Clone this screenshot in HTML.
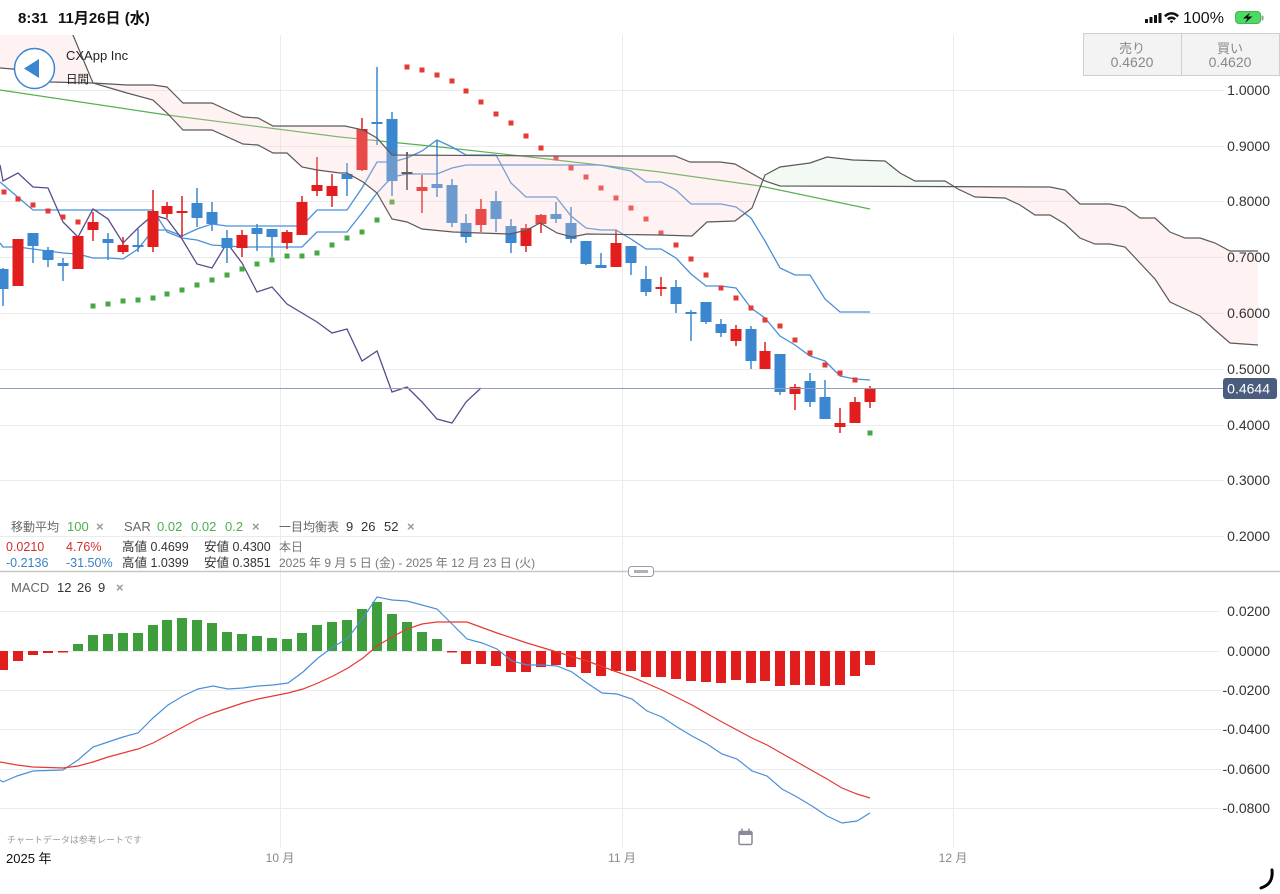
<!DOCTYPE html>
<html><head><meta charset="utf-8"><style>
html,body{margin:0;padding:0;background:#fff;}
svg{display:block;}
</style></head><body>
<svg width="1280" height="894" viewBox="0 0 1280 894" xmlns="http://www.w3.org/2000/svg" font-family="'Liberation Sans','Noto Sans CJK JP',sans-serif">
<defs>
<clipPath id="cm"><rect x="0" y="35" width="1280" height="536"/></clipPath>
<clipPath id="cp"><rect x="0" y="0" width="763" height="900"/><rect x="954" y="0" width="400" height="900"/></clipPath>
<clipPath id="cg"><rect x="763" y="0" width="191" height="900"/></clipPath>
<clipPath id="cmacd"><rect x="0" y="573" width="1280" height="280"/></clipPath>
</defs>
<rect width="1280" height="894" fill="#fff"/>

<!-- horizontal gridlines -->
<g stroke="#ebebeb" stroke-width="1">
<path d="M0,90.5H1224M0,146.5H1224M0,201.5H1224M0,257.5H1224M0,313.5H1224M0,369.5H1224M0,425.5H1224M0,480.5H1224M0,536.5H1224"/>
<path d="M0,611.5H1220M0,651.5H1220M0,690.5H1220M0,729.5H1220M0,769.5H1220M0,808.5H1220"/>
<path d="M280.5,35V848M622.5,35V848M953.5,35V848"/>
</g>

<g clip-path="url(#cm)">
<!-- MA 100 -->
<polyline fill="none" stroke="#55b04f" stroke-width="1.2" points="0,90 167,115 340,137 440,147 530,157 660,172 760,186 870,209"/>
<!-- Kijun -->
<polyline fill="none" stroke="#4a90d9" stroke-width="1.3" points="0,182 33,210 48,210 63,210 78,210 93,210 108,210 123,210 138,210 153,210 167,232 182,238 197,240 212,245 227,246 242,247 257,247 272,247 287,247 302,247 317,232 332,232 347,232 362,213 377,193 392,177 407,174 422,174 437,174 452,168 466,165 481,165 496,165 511,165 526,165 541,165 556,165 571,165 586,165 601,165 616,168 631,171 646,182 661,182 676,190 691,204 706,204 721,204 736,207 751,218 765,241 780,268 795,275 810,275 825,299 840,312 855,312 870,312"/>
<!-- Tenkan -->
<polyline fill="none" stroke="#4a90d9" stroke-width="1.3" points="0,243 3,247 18,247 33,249 48,251 63,253 78,254 93,258 108,258 123,259 138,249 153,230 167,230 182,236 197,229 212,224 227,226 242,226 257,226 272,226 287,226 302,226 317,210 332,210 347,210 362,188 377,162 392,162 407,158 422,151 437,140 452,147 466,155 481,155 496,155 511,183 526,197 541,197 556,197 571,216 586,228 601,230 616,230 631,239 646,249 661,249 676,258 691,274 706,286 721,286 736,288 751,308 765,318 780,336 795,345 810,356 825,361 840,376 855,379 870,380"/>
<!-- Chikou -->
<polyline fill="none" stroke="#5b4a8c" stroke-width="1.3" points="0,165 3,181 18,173 33,187 48,188 63,222 78,237 93,209 108,219 123,243 138,228 153,215 167,219 182,239 197,264 212,268 227,243 242,263 257,292 272,287 287,304 302,313 317,322 332,333 347,329 362,361 377,351 392,392 407,387 422,402 437,419 452,423 466,402 481,388"/>

<!-- candles red -->
<path fill="none" stroke="#e21d1d" stroke-width="1.5" d="M18,239V286M78,236V269M93,212V241M123,237V254M153,190V252M167,202V218M182,196V237M242,230V257M287,230V249M302,196V235M317,157V196M332,174V207M362,118V171M422,175V213M481,199V232M526,224V252M541,214V233M616,230V267M661,277V296M736,325V346M765,342V369M795,384V410M840,408V433M855,397V423M870,386V408"/>
<g fill="#e21d1d">
<rect x="12.5" y="239" width="11" height="47"/><rect x="72.5" y="236" width="11" height="33"/><rect x="87.5" y="222" width="11" height="8"/><rect x="117.5" y="245" width="11" height="7"/><rect x="147.5" y="211" width="11" height="36"/><rect x="161.5" y="206" width="11" height="8"/><rect x="176.5" y="211" width="11" height="2"/><rect x="236.5" y="235" width="11" height="13"/><rect x="281.5" y="232" width="11" height="11"/><rect x="296.5" y="202" width="11" height="33"/><rect x="311.5" y="185" width="11" height="6"/><rect x="326.5" y="186" width="11" height="10"/><rect x="356.5" y="129" width="11" height="41"/><rect x="416.5" y="187" width="11" height="4"/><rect x="475.5" y="209" width="11" height="16"/><rect x="520.5" y="228" width="11" height="18"/><rect x="535.5" y="215" width="11" height="9"/><rect x="610.5" y="243" width="11" height="24"/><rect x="655.5" y="287" width="11" height="2"/><rect x="730.5" y="329" width="11" height="12"/><rect x="759.5" y="351" width="11" height="18"/><rect x="789.5" y="387" width="11" height="7"/><rect x="834.5" y="423" width="11" height="4"/><rect x="849.5" y="402" width="11" height="21"/><rect x="864.5" y="388" width="11" height="14"/>
</g>
<!-- candles blue -->
<path fill="none" stroke="#3a87cf" stroke-width="1.5" d="M3,268V306M33,233V263M48,247V267M63,258V281M108,233V260M138,229V252M197,188V227M212,202V231M227,230V263M257,224V251M272,229V257M347,163V196M377,67V145M392,112V196M437,140V197M452,179V227M466,214V243M496,191V232M511,219V253M556,202V223M571,207V243M586,241V265M601,253V268M631,246V275M646,266V296M676,280V313M691,310V341M706,302V324M721,319V337M751,326V369M780,354V395M810,373V407M825,380V419"/>
<g fill="#3a87cf">
<rect x="-2.5" y="269" width="11" height="20"/><rect x="27.5" y="233" width="11" height="13"/><rect x="42.5" y="250" width="11" height="10"/><rect x="57.5" y="263" width="11" height="3"/><rect x="102.5" y="239" width="11" height="4"/><rect x="132.5" y="245" width="11" height="2"/><rect x="191.5" y="203" width="11" height="15"/><rect x="206.5" y="212" width="11" height="12"/><rect x="221.5" y="238" width="11" height="10"/><rect x="251.5" y="228" width="11" height="6"/><rect x="266.5" y="229" width="11" height="8"/><rect x="341.5" y="174" width="11" height="5"/><rect x="371.5" y="122" width="11" height="2"/><rect x="386.5" y="119" width="11" height="62"/><rect x="431.5" y="184" width="11" height="4"/><rect x="446.5" y="185" width="11" height="38"/><rect x="460.5" y="223" width="11" height="14"/><rect x="490.5" y="201" width="11" height="18"/><rect x="505.5" y="226" width="11" height="17"/><rect x="550.5" y="214" width="11" height="5"/><rect x="565.5" y="223" width="11" height="16"/><rect x="580.5" y="241" width="11" height="23"/><rect x="595.5" y="265" width="11" height="3"/><rect x="625.5" y="246" width="11" height="17"/><rect x="640.5" y="279" width="11" height="13"/><rect x="670.5" y="287" width="11" height="17"/><rect x="685.5" y="312" width="11" height="2"/><rect x="700.5" y="302" width="11" height="20"/><rect x="715.5" y="324" width="11" height="9"/><rect x="745.5" y="329" width="11" height="32"/><rect x="774.5" y="354" width="11" height="38"/><rect x="804.5" y="381" width="11" height="21"/><rect x="819.5" y="397" width="11" height="22"/>
</g>
<path stroke="#333" stroke-width="1.5" d="M407,152V190"/><rect x="401.5" y="172" width="11" height="2" fill="#333"/>

<!-- SAR -->
<path fill="#e53935" d="M1.5,189.5h5v5h-5zM15.5,196.5h5v5h-5zM30.5,202.5h5v5h-5zM45.5,208.5h5v5h-5zM60.5,214.5h5v5h-5zM75.5,219.5h5v5h-5zM404.5,64.5h5v5h-5zM419.5,67.5h5v5h-5zM434.5,72.5h5v5h-5zM449.5,78.5h5v5h-5zM463.5,88.5h5v5h-5zM478.5,99.5h5v5h-5zM493.5,111.5h5v5h-5zM508.5,120.5h5v5h-5zM523.5,133.5h5v5h-5zM538.5,145.5h5v5h-5zM553.5,155.5h5v5h-5zM568.5,165.5h5v5h-5zM583.5,174.5h5v5h-5zM598.5,185.5h5v5h-5zM613.5,195.5h5v5h-5zM628.5,205.5h5v5h-5zM643.5,216.5h5v5h-5zM658.5,230.5h5v5h-5zM673.5,242.5h5v5h-5zM688.5,256.5h5v5h-5zM703.5,272.5h5v5h-5zM718.5,285.5h5v5h-5zM733.5,295.5h5v5h-5zM748.5,305.5h5v5h-5zM762.5,317.5h5v5h-5zM777.5,323.5h5v5h-5zM792.5,337.5h5v5h-5zM807.5,350.5h5v5h-5zM822.5,362.5h5v5h-5zM837.5,370.5h5v5h-5zM852.5,377.5h5v5h-5z"/>
<path fill="#45a843" d="M90.5,303.5h5v5h-5zM105.5,301.5h5v5h-5zM120.5,298.5h5v5h-5zM135.5,297.5h5v5h-5zM150.5,295.5h5v5h-5zM164.5,291.5h5v5h-5zM179.5,287.5h5v5h-5zM194.5,282.5h5v5h-5zM209.5,277.5h5v5h-5zM224.5,272.5h5v5h-5zM239.5,266.5h5v5h-5zM254.5,261.5h5v5h-5zM269.5,257.5h5v5h-5zM284.5,253.5h5v5h-5zM299.5,253.5h5v5h-5zM314.5,250.5h5v5h-5zM329.5,242.5h5v5h-5zM344.5,235.5h5v5h-5zM359.5,229.5h5v5h-5zM374.5,217.5h5v5h-5zM389.5,199.5h5v5h-5zM867.5,430.5h5v5h-5z"/>

<!-- Cloud fills -->
<g clip-path="url(#cp)">
<polygon fill="rgba(250,205,205,0.26)" points="0,68 13,69 50,82 93,83 127,85 153,85 167,87 183,103 212,103 227,110 243,117 258,118 273,126 345,126 363,130 377,138 392,155 560,156 675,156 690,162 720,162 735,164 765,181 780,186 1050,187 1065,190 1080,204 1110,204 1125,207 1140,218 1155,218 1170,232 1185,238 1200,238 1215,243 1230,251 1258,251 1258,345 1230,343 1215,330 1200,316 1185,309 1170,302 1155,279 1140,263 1125,247 1110,244 1095,244 1080,238 1065,224 1050,215 1035,215 1020,205 1005,198 975,197 958,189 945,181 915,181 900,173 885,161 853,160 827,157 810,163 780,167 765,175 752,208 735,221 707,222 692,236 660,235 587,234 572,237 557,233 540,223 527,230 510,234 480,233 453,232 422,229 407,222 392,219 377,193 363,182 347,173 340,173 317,170 302,167 287,153 273,153 258,145 243,144 212,130 183,130 167,113 153,100 127,93 93,83 73,35 60,0 0,0"/>
</g>
<g clip-path="url(#cg)">
<polygon fill="rgba(200,232,200,0.22)" points="0,68 13,69 50,82 93,83 127,85 153,85 167,87 183,103 212,103 227,110 243,117 258,118 273,126 345,126 363,130 377,138 392,155 560,156 675,156 690,162 720,162 735,164 765,181 780,186 1050,187 1065,190 1080,204 1110,204 1125,207 1140,218 1155,218 1170,232 1185,238 1200,238 1215,243 1230,251 1258,251 1258,345 1230,343 1215,330 1200,316 1185,309 1170,302 1155,279 1140,263 1125,247 1110,244 1095,244 1080,238 1065,224 1050,215 1035,215 1020,205 1005,198 975,197 958,189 945,181 915,181 900,173 885,161 853,160 827,157 810,163 780,167 765,175 752,208 735,221 707,222 692,236 660,235 587,234 572,237 557,233 540,223 527,230 510,234 480,233 453,232 422,229 407,222 392,219 377,193 363,182 347,173 340,173 317,170 302,167 287,153 273,153 258,145 243,144 212,130 183,130 167,113 153,100 127,93 93,83 73,35 60,0 0,0"/>
</g>
<!-- Span lines -->
<polyline fill="none" stroke="#5a5a5a" stroke-width="1.2" points="0,68 13,69 50,82 93,83 127,85 153,85 167,87 183,103 212,103 227,110 243,117 258,118 273,126 345,126 363,130 377,138 392,155 560,156 675,156 690,162 720,162 735,164 765,181 780,186 1050,187 1065,190 1080,204 1110,204 1125,207 1140,218 1155,218 1170,232 1185,238 1200,238 1215,243 1230,251 1258,251"/>
<polyline fill="none" stroke="#5a5a5a" stroke-width="1.2" points="60,0 73,35 93,83 127,93 153,100 167,113 183,130 212,130 243,144 258,145 273,153 287,153 302,167 317,170 340,173 347,173 363,182 377,193 392,219 407,222 422,229 453,232 480,233 510,234 527,230 540,223 557,233 572,237 587,234 660,235 692,236 707,222 735,221 752,208 765,175 780,167 810,163 827,157 853,160 885,161 900,173 915,181 945,181 958,189 975,197 1005,198 1020,205 1035,215 1050,215 1065,224 1080,238 1095,244 1110,244 1125,247 1140,263 1155,279 1170,302 1185,309 1200,316 1215,330 1230,343 1258,345"/>
<!-- current price line -->
<path d="M0,388.5H1223" stroke="#8fa0bf" stroke-width="1"/>
</g>

<!-- Price axis labels -->
<g font-size="14" fill="#333" text-anchor="end">
<text x="1270" y="95">1.0000</text>
<text x="1270" y="151">0.9000</text>
<text x="1270" y="206">0.8000</text>
<text x="1270" y="262">0.7000</text>
<text x="1270" y="318">0.6000</text>
<text x="1270" y="374">0.5000</text>
<text x="1270" y="430">0.4000</text>
<text x="1270" y="485">0.3000</text>
<text x="1270" y="541">0.2000</text>
</g>
<rect x="1223" y="378" width="54" height="21" rx="3" fill="#4b5d7e"/>
<text x="1270" y="393.5" font-size="14" fill="#fff" text-anchor="end">0.4644</text>

<!-- Legend -->
<g font-size="13">
<text x="11" y="531" fill="#666" font-size="12">移動平均</text>
<text x="67" y="531" fill="#4caf50">100</text>
<text x="96" y="531" fill="#999" font-weight="bold">×</text>
<text x="124" y="531" fill="#666">SAR</text>
<text x="157" y="531" fill="#4caf50">0.02</text>
<text x="191" y="531" fill="#4caf50">0.02</text>
<text x="225" y="531" fill="#4caf50">0.2</text>
<text x="252" y="531" fill="#999" font-weight="bold">×</text>
<text x="279" y="531" fill="#666" font-size="12">一目均衡表</text>
<text x="346" y="531" fill="#333">9</text>
<text x="361" y="531" fill="#333">26</text>
<text x="384" y="531" fill="#333">52</text>
<text x="407" y="531" fill="#999" font-weight="bold">×</text>
</g>
<g font-size="12.5">
<text x="6" y="551" fill="#d32f2f">0.0210</text>
<text x="66" y="551" fill="#d32f2f">4.76%</text>
<text x="122" y="551" fill="#333">高値 0.4699</text>
<text x="204" y="551" fill="#333">安値 0.4300</text>
<text x="279" y="551" fill="#777" font-size="12">本日</text>
<text x="6" y="567" fill="#3b7fc4">-0.2136</text>
<text x="66" y="567" fill="#3b7fc4">-31.50%</text>
<text x="122" y="567" fill="#333">高値 1.0399</text>
<text x="204" y="567" fill="#333">安値 0.3851</text>
<text x="279" y="567" fill="#777" font-size="12">2025 年 9 月 5 日 (金) - 2025 年 12 月 23 日 (火)</text>
</g>

<!-- Separator -->
<path d="M0,571.5H1280" stroke="#c8c8c2" stroke-width="1.6"/>
<rect x="628.5" y="566.5" width="25" height="10" rx="3" fill="#fff" stroke="#9a9aaa" stroke-width="1"/>
<rect x="634" y="570" width="14" height="3" fill="#b0b0bb"/>

<g font-size="13">
<text x="11" y="592" fill="#666">MACD</text>
<text x="57" y="592" fill="#333">12</text>
<text x="77" y="592" fill="#333">26</text>
<text x="98" y="592" fill="#333">9</text>
<text x="116" y="592" fill="#999" font-weight="bold">×</text>
</g>

<!-- MACD -->
<g clip-path="url(#cmacd)">
<g fill="#e21d1d">
<rect x="-2" y="651" width="10" height="19"/><rect x="13" y="651" width="10" height="10"/><rect x="28" y="651" width="10" height="4"/><rect x="43" y="651" width="10" height="2"/><rect x="58" y="651" width="10" height="1.5"/><rect x="447" y="651" width="10" height="1.5"/>
<rect x="461" y="651" width="10" height="13"/><rect x="476" y="651" width="10" height="13"/><rect x="491" y="651" width="10" height="15"/><rect x="506" y="651" width="10" height="21"/><rect x="521" y="651" width="10" height="21"/><rect x="536" y="651" width="10" height="16"/><rect x="551" y="651" width="10" height="14"/><rect x="566" y="651" width="10" height="16"/><rect x="581" y="651" width="10" height="22"/><rect x="596" y="651" width="10" height="25"/><rect x="611" y="651" width="10" height="20"/><rect x="626" y="651" width="10" height="20"/><rect x="641" y="651" width="10" height="26"/><rect x="656" y="651" width="10" height="26"/><rect x="671" y="651" width="10" height="28"/><rect x="686" y="651" width="10" height="30"/><rect x="701" y="651" width="10" height="31"/><rect x="716" y="651" width="10" height="32"/><rect x="731" y="651" width="10" height="29"/><rect x="746" y="651" width="10" height="32"/><rect x="760" y="651" width="10" height="30"/><rect x="775" y="651" width="10" height="35"/><rect x="790" y="651" width="10" height="34"/><rect x="805" y="651" width="10" height="34"/><rect x="820" y="651" width="10" height="35"/><rect x="835" y="651" width="10" height="34"/><rect x="850" y="651" width="10" height="25"/><rect x="865" y="651" width="10" height="14"/>
</g>
<g fill="#3d9e3b">
<rect x="73" y="644" width="10" height="7"/><rect x="88" y="635" width="10" height="16"/><rect x="103" y="634" width="10" height="17"/><rect x="118" y="633" width="10" height="18"/><rect x="133" y="633" width="10" height="18"/><rect x="148" y="625" width="10" height="26"/><rect x="162" y="620" width="10" height="31"/><rect x="177" y="618" width="10" height="33"/><rect x="192" y="620" width="10" height="31"/><rect x="207" y="623" width="10" height="28"/><rect x="222" y="632" width="10" height="19"/><rect x="237" y="634" width="10" height="17"/><rect x="252" y="636" width="10" height="15"/><rect x="267" y="638" width="10" height="13"/><rect x="282" y="639" width="10" height="12"/><rect x="297" y="633" width="10" height="18"/><rect x="312" y="625" width="10" height="26"/><rect x="327" y="622" width="10" height="29"/><rect x="342" y="620" width="10" height="31"/><rect x="357" y="609" width="10" height="42"/><rect x="372" y="602" width="10" height="49"/><rect x="387" y="614" width="10" height="37"/><rect x="402" y="622" width="10" height="29"/><rect x="417" y="632" width="10" height="19"/><rect x="432" y="639" width="10" height="12"/>
</g>
<polyline fill="none" stroke="#4a90d9" stroke-width="1.2" points="0,780 3,782 17,776 33,771 63,770 78,760 93,747 108,742 123,737 138,733 153,718 168,705 183,696 198,689 213,686 228,689 243,688 258,686 273,685 288,683 303,672 318,658 333,647 348,638 363,618 377,597 392,600 407,601 422,605 437,609 452,624 467,639 482,643 497,649 512,661 527,665 542,665 557,666 572,672 587,683 602,693 617,694 632,699 647,711 662,717 677,727 692,736 707,744 722,754 737,759 752,771 767,776 782,789 797,797 812,806 827,816 842,823 857,821 870,813"/>
<polyline fill="none" stroke="#e53935" stroke-width="1.2" points="0,762 17,765 33,767 63,768 78,766 93,762 108,757 123,753 138,749 153,743 168,735 183,727 198,719 213,713 228,708 243,703 258,699 273,696 288,693 303,689 318,683 333,676 348,668 363,658 377,646 392,637 407,629 422,624 437,622 467,622 497,633 527,643 557,652 587,661 617,672 632,677 662,690 692,705 722,722 752,738 767,745 797,762 827,779 842,788 857,794 870,798"/>
</g>
<g font-size="14" fill="#333" text-anchor="end">
<text x="1270" y="616">0.0200</text>
<text x="1270" y="656">0.0000</text>
<text x="1270" y="695">-0.0200</text>
<text x="1270" y="734">-0.0400</text>
<text x="1270" y="774">-0.0600</text>
<text x="1270" y="813">-0.0800</text>
</g>

<!-- Bottom axis -->
<text x="7" y="843" font-size="9" fill="#9a9a9a">チャートデータは参考レートです</text>
<text x="6" y="863" font-size="13" fill="#111">2025 年</text>
<g font-size="12" fill="#888" text-anchor="middle">
<text x="280" y="862">10 月</text>
<text x="622" y="862">11 月</text>
<text x="953" y="862">12 月</text>
</g>
<!-- calendar icon -->
<g fill="none" stroke="#8a8a98" stroke-width="1.5">
<rect x="739" y="831.5" width="13" height="13" rx="1.5"/>
</g>
<rect x="739" y="831" width="13" height="4" fill="#8a8a98"/>
<path d="M742,828.5V833M749,828.5V833" stroke="#8a8a98" stroke-width="1.5"/>
<!-- corner mark -->
<path d="M1272,870 C1273,879 1270,885 1261,888" fill="none" stroke="#000" stroke-width="3" stroke-linecap="round"/>

<!-- Header overlay -->
<circle cx="34.5" cy="68.5" r="20" fill="#fff" stroke="#3a87cf" stroke-width="1.5"/>
<path d="M24,68.5 L39,59 L39,78 Z" fill="#3a87cf"/>
<text x="66" y="60" font-size="13" fill="#222">CXApp Inc</text>
<text x="66" y="83" font-size="11.5" fill="#222">日間</text>

<g>
<rect x="1083.5" y="33.5" width="98" height="42" fill="#f3f3f3" stroke="#cfcfcf"/>
<rect x="1181.5" y="33.5" width="98" height="42" fill="#f3f3f3" stroke="#cfcfcf"/>
<g font-size="14" fill="#888" text-anchor="middle">
<text x="1132" y="53" font-size="13">売り</text>
<text x="1132" y="67">0.4620</text>
<text x="1230" y="53" font-size="13">買い</text>
<text x="1230" y="67">0.4620</text>
</g>
</g>

<!-- Status bar -->
<rect x="0" y="0" width="1280" height="33" fill="#fff"/>
<text x="18" y="23" font-size="15" font-weight="bold" fill="#111">8:31</text>
<text x="58" y="23" font-size="15" font-weight="bold" fill="#111">11月26日 (水)</text>
<g fill="#111">
<rect x="1145" y="19" width="3" height="4" rx="0.5"/>
<rect x="1149.5" y="17" width="3" height="6" rx="0.5"/>
<rect x="1154" y="15" width="3" height="8" rx="0.5"/>
<rect x="1158.5" y="13" width="3" height="10" rx="0.5"/>
<path d="M1164,15.5 A10,10 0 0 1 1179,15.5 L1177.2,17.3 A7.5,7.5 0 0 0 1165.8,17.3 Z"/>
<path d="M1167,18.5 A6,6 0 0 1 1176,18.5 L1174.2,20.3 A3.5,3.5 0 0 0 1168.8,20.3 Z"/>
<path d="M1169.8,21.3 A2.2,2.2 0 0 1 1173.2,21.3 L1171.5,23.2 Z"/>
</g>
<text x="1183" y="23" font-size="16" fill="#111">100%</text>
<rect x="1235.5" y="11.5" width="25" height="12" rx="3.5" fill="#4cd964" stroke="#3cb855"/>
<rect x="1261.5" y="15.5" width="2" height="5" rx="1" fill="#9a9a9a"/>
<path d="M1250,12.5 L1243,18.5 L1247.5,18.5 L1245,23 L1252.5,16.5 L1248,16.5 Z" fill="#111"/>
</svg>
</body></html>
